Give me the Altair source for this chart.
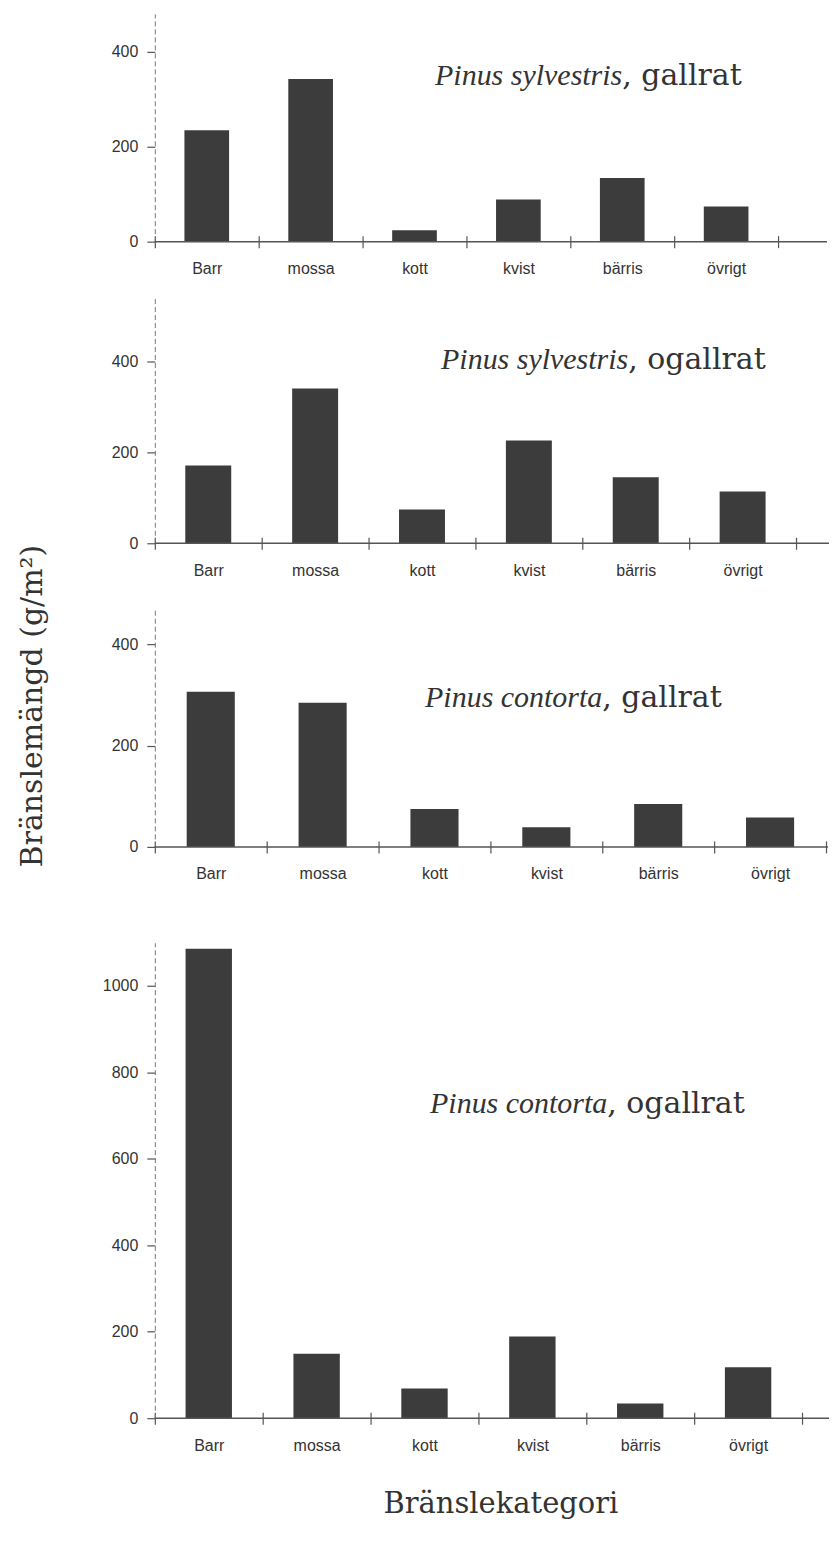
import altair as alt
import pandas as pd

categories = ["Barr", "mossa", "kott", "kvist", "bärris", "övrigt"]
sylv_gallrat = [235, 343, 24, 89, 134, 74]
sylv_ogallrat = [171, 340, 74, 226, 145, 114]
cont_gallrat = [307, 285, 75, 39, 85, 58]
cont_ogallrat = [1086, 149, 69, 189, 34, 118]
panel_values = [sylv_gallrat, sylv_ogallrat, cont_gallrat, cont_ogallrat]
panel_species = ["Pinus sylvestris", "Pinus sylvestris", "Pinus contorta", "Pinus contorta"]
panel_treatment = [", gallrat", ", ogallrat", ", gallrat", ", ogallrat"]
y_max = [480, 540, 470, 1100]
y_ticks = [[0, 200, 400], [0, 200, 400], [0, 200, 400], [0, 200, 400, 600, 800, 1000]]
y_title = "Bränslemängd  (g/m²)"
x_title = "Bränslekategori"

# layout (pixels): plot height, band step, extra space above, baseline end, annotation split x, annotation baseline y
layout = [
    dict(h=228, step=104, ext=4, line=673, split=468, base=71),
    dict(h=246, step=107, ext=0, line=675, split=474, base=72),
    dict(h=238, step=112, ext=9, line=674, split=448, base=98),
    dict(h=476, step=108, ext=39, line=675, split=453, base=170),
]

INK = "#333333"
AXIS = "#555555"
BAR = "#3c3c3c"
SERIF = "DejaVu Serif"
ITALIC = "Liberation Serif"
SANS = "Liberation Sans"


def panel(i):
    L = layout[i]
    df = pd.DataFrame({"cat": categories, "val": panel_values[i]})
    w = L["step"] * len(categories)
    last = i == 3
    x_axis = alt.Axis(
        title=x_title if last else None,
        titleFont=SERIF, titleFontSize=29, titleFontWeight="normal",
        titleColor=INK, titlePadding=36, titleX=346, titleAlign="center",
        labelAngle=0, domain=False, tickBand="extent", tickSize=12, offset=-6,
        tickColor=AXIS, tickWidth=1.2, labelPadding=13,
        labelFont=SANS, labelFontSize=16, labelColor=INK,
    )
    y_axis = alt.Axis(
        title=None, values=y_ticks[i], format="d", grid=False,
        domainDash=[5, 3], domainColor="#777777", domainWidth=1,
        tickSize=8, tickColor=AXIS, tickWidth=1.2, labelPadding=9,
        labelFont=SANS, labelFontSize=16, labelColor=INK,
    )
    x_enc = alt.X("cat:N", sort=categories,
                  scale=alt.Scale(paddingInner=0, paddingOuter=0), axis=x_axis)
    y_enc = alt.Y("val:Q", scale=alt.Scale(domain=[0, y_max[i]], nice=False, zero=True),
                  axis=y_axis)
    bars = alt.Chart(df).mark_bar(color=BAR, width={"band": 0.43}).encode(x=x_enc, y=y_enc)

    base_line = alt.Chart(pd.DataFrame({"z": [0]})).mark_rule(
        color=AXIS, strokeWidth=1.5
    ).encode(y=alt.datum(0), x=alt.value(0), x2=alt.value(L["line"]))

    sp = alt.Chart(pd.DataFrame({"t": [panel_species[i]]})).mark_text(
        align="right", baseline="alphabetic", font=ITALIC,
        fontStyle="italic", fontSize=30, color=INK
    ).encode(x=alt.value(L["split"]), y=alt.value(L["base"]), text="t:N")
    tr = alt.Chart(pd.DataFrame({"t": [panel_treatment[i]]})).mark_text(
        align="left", baseline="alphabetic", font=SERIF,
        fontSize=30, color=INK
    ).encode(x=alt.value(L["split"]), y=alt.value(L["base"]), text="t:N")

    layers = [bars, base_line, sp, tr]
    if L["ext"] > 0:
        spacer = alt.Chart(pd.DataFrame({"z": [0]})).mark_rule(
            color="white", strokeWidth=1
        ).encode(x=alt.value(w / 2), y=alt.value(-L["ext"]), y2=alt.value(0))
        layers.append(spacer)
    return alt.layer(*layers).properties(width=w, height=L["h"])


panels = alt.vconcat(*[panel(i) for i in range(4)], spacing=21)

ytitle = alt.Chart(pd.DataFrame({"t": [y_title]})).mark_text(
    angle=270, align="center", baseline="middle", font=SERIF, fontSize=30, color=INK
).encode(x=alt.value(25), y=alt.value(693), text="t:N").properties(width=94, height=1400)

chart = alt.hconcat(ytitle, panels, spacing=0).properties(
    padding={"left": 0, "top": 0, "right": 0, "bottom": 0},
    background="white",
).configure_view(stroke="transparent", strokeWidth=0)

chart.save("out.html", embed_options={"renderer": "svg", "actions": False})
